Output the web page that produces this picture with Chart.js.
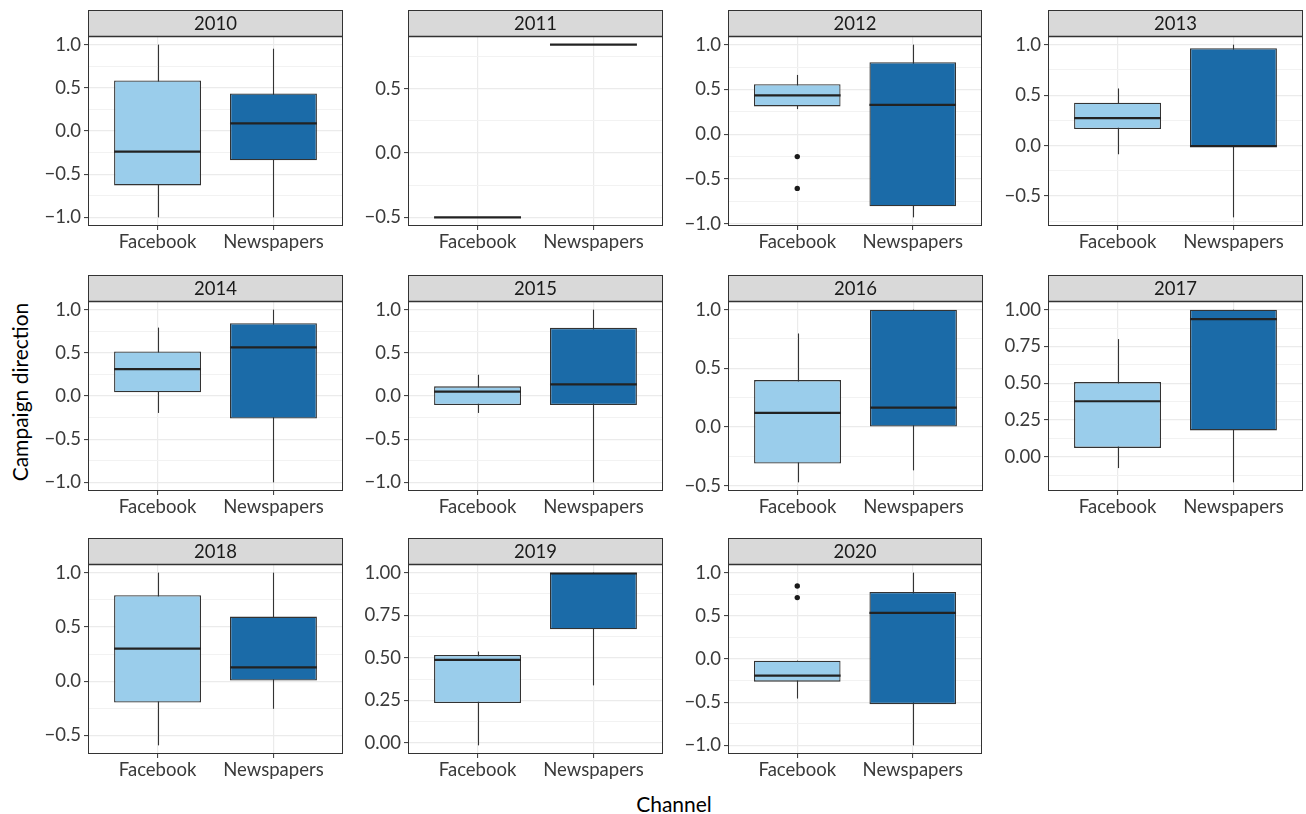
<!DOCTYPE html>
<html>
<head>
<meta charset="utf-8">
<script src="https://cdn.jsdelivr.net/npm/chart.js@4.4.1/dist/chart.umd.min.js"></script>
<style>
  html, body { margin: 0; padding: 0; background: #ffffff; }
  #wrap { position: relative; width: 1306px; height: 814px; overflow: hidden; font-family: Lato, "Open Sans", sans-serif; }
  #wrap canvas { position: absolute; }
  .axis-title { position: absolute; white-space: nowrap; font-size: 21px; color: #000000; }
  #ytitle { left: 19px; top: 392px; transform: translate(-50%, -50%) rotate(-90deg); }
  #xtitle { left: 674px; top: 803px; transform: translate(-50%, -50%); }
</style>
</head>
<body>
<div id="wrap">
  <div class="axis-title" id="ytitle">Campaign direction</div>
  <div class="axis-title" id="xtitle">Channel</div>
</div>
<script>
// Facet labels and categories
const years = [2010, 2011, 2012, 2013, 2014, 2015, 2016, 2017, 2018, 2019, 2020];
const channels = ['Facebook', 'Newspapers'];

// Facebook box statistics per year
const fbLow    = [-1.0, -0.5, 0.281, -0.086, -0.196, -0.196, -0.471, -0.076, -0.592, -0.014, -0.458];
const fbQ1     = [-0.63, -0.5, 0.311, 0.165, 0.043, -0.104, -0.31, 0.061, -0.197, 0.234, -0.262];
const fbMedian = [-0.238, -0.5, 0.433, 0.273, 0.311, 0.05, 0.121, 0.378, 0.3, 0.488, -0.193];
const fbQ3     = [0.585, -0.5, 0.559, 0.425, 0.516, 0.112, 0.4, 0.508, 0.791, 0.517, -0.019];
const fbHigh   = [1.0, -0.5, 0.662, 0.566, 0.792, 0.246, 0.797, 0.8, 1.0, 0.537, -0.019];
const fbOutliers = [[], [], [-0.249, -0.604], [], [], [], [], [], [], [], [0.846, 0.711]];

// Newspapers box statistics per year
const npLow    = [-1.0, 0.843, -0.927, -0.711, -1.0, -1.0, -0.369, -0.173, -0.255, 0.338, -1.0];
const npQ1     = [-0.338, 0.843, -0.804, -0.012, -0.261, -0.104, 0.0, 0.18, 0.0, 0.668, -0.523];
const npMedian = [0.089, 0.843, 0.329, -0.005, 0.562, 0.135, 0.166, 0.935, 0.126, 0.995, 0.534];
const npQ3     = [0.435, 0.843, 0.803, 0.964, 0.842, 0.789, 1.0, 1.0, 0.595, 1.0, 0.776];
const npHigh   = [0.953, 0.843, 1.0, 1.0, 1.0, 1.0, 1.0, 1.0, 1.0, 1.0, 1.0];
const npOutliers = [[], [], [], [], [], [], [], [], [], [], []];

// Labelled y ticks per facet and their decimal places
const yTickValues = [
  [-1, -0.5, 0, 0.5, 1],
  [-0.5, 0, 0.5],
  [-1, -0.5, 0, 0.5, 1],
  [-0.5, 0, 0.5, 1],
  [-1, -0.5, 0, 0.5, 1],
  [-1, -0.5, 0, 0.5, 1],
  [-0.5, 0, 0.5, 1],
  [0, 0.25, 0.5, 0.75, 1],
  [-0.5, 0, 0.5, 1],
  [0, 0.25, 0.5, 0.75, 1],
  [-1, -0.5, 0, 0.5, 1]
];
const yTickDigits = [1, 1, 1, 1, 1, 1, 1, 2, 1, 2, 1];

// Layout of the facet grid
const colLeft = [88, 408, 728, 1048];
const rowTop = [10, 275, 538];
const LEFT_GUTTER = 62, STRIP_H = 26, PLOT_W = 255, PLOT_H = 190, BOTTOM_GUTTER = 32, RIGHT_PAD = 3;
const FONT_FAMILY = 'Lato, "Open Sans", sans-serif';
const FILLS = ['#9ACDEB', '#1B6BA8'];
const INK = '#333333';

function fmtTick(v, d) {
  const s = Math.abs(v).toFixed(d);
  return (v < -1e-9 ? '\u2212' : '') + s;
}

function boxPlugin(stats, year) {
  return {
    id: 'boxParts',
    beforeDraw(chart) {
      const { ctx, chartArea: a } = chart;
      ctx.save();
      ctx.fillStyle = '#ffffff';
      ctx.fillRect(a.left, a.top, a.right - a.left, a.bottom - a.top);
      ctx.restore();
    },
    beforeDatasetsDraw(chart) {
      // whiskers behind the boxes
      const { ctx } = chart;
      const xs = chart.scales.x, ys = chart.scales.y;
      ctx.save();
      ctx.strokeStyle = INK;
      ctx.lineWidth = 1.1;
      stats.low.forEach((lo, k) => {
        const x = Math.round(xs.getPixelForValue(k + 1)) + 0.5;
        ctx.beginPath();
        ctx.moveTo(x, ys.getPixelForValue(lo));
        ctx.lineTo(x, ys.getPixelForValue(stats.high[k]));
        ctx.stroke();
      });
      ctx.restore();
    },
    afterDatasetsDraw(chart) {
      // median bars across each box
      const { ctx } = chart;
      const ys = chart.scales.y;
      const meta = chart.getDatasetMeta(0);
      ctx.save();
      ctx.strokeStyle = '#222222';
      ctx.lineWidth = 2.2;
      meta.data.forEach((el, k) => {
        const { x, width } = el.getProps(['x', 'width'], true);
        const y = ys.getPixelForValue(stats.median[k]);
        ctx.beginPath();
        ctx.moveTo(x - width / 2, y);
        ctx.lineTo(x + width / 2, y);
        ctx.stroke();
      });
      ctx.restore();
    },
    afterDraw(chart) {
      // panel frame and facet strip
      const { ctx, chartArea: a } = chart;
      ctx.save();
      ctx.strokeStyle = INK;
      ctx.lineWidth = 1;
      ctx.strokeRect(a.left + 0.5, a.top + 0.5, a.right - a.left - 1, a.bottom - a.top - 1);
      ctx.fillStyle = '#D9D9D9';
      ctx.fillRect(a.left, 0, a.right - a.left, a.top);
      ctx.strokeRect(a.left + 0.5, 0.5, a.right - a.left - 1, a.top);
      ctx.lineWidth = 1.6;
      ctx.beginPath();
      ctx.moveTo(a.left, a.top + 0.5);
      ctx.lineTo(a.right, a.top + 0.5);
      ctx.stroke();
      ctx.fillStyle = '#1A1A1A';
      ctx.font = '18.5px ' + FONT_FAMILY;
      ctx.textAlign = 'center';
      ctx.textBaseline = 'middle';
      ctx.fillText(String(year), (a.left + a.right) / 2, a.top / 2 + 1);
      ctx.restore();
    }
  };
}

const wrap = document.getElementById('wrap');

years.forEach((year, i) => {
  const col = i % 4, row = Math.floor(i / 4);
  const canvas = document.createElement('canvas');
  const w = LEFT_GUTTER + PLOT_W + RIGHT_PAD;
  const h = STRIP_H + PLOT_H + BOTTOM_GUTTER;
  canvas.width = w;
  canvas.height = h;
  canvas.style.left = (colLeft[col] - LEFT_GUTTER) + 'px';
  canvas.style.top = rowTop[row] + 'px';
  canvas.style.width = w + 'px';
  canvas.style.height = h + 'px';
  wrap.appendChild(canvas);

  const stats = {
    low: [fbLow[i], npLow[i]],
    q1: [fbQ1[i], npQ1[i]],
    median: [fbMedian[i], npMedian[i]],
    q3: [fbQ3[i], npQ3[i]],
    high: [fbHigh[i], npHigh[i]]
  };
  const outlierPts = fbOutliers[i].map(v => ({ x: 1, y: v }))
    .concat(npOutliers[i].map(v => ({ x: 2, y: v })));

  // free y range with 5% expansion
  const allVals = stats.low.concat(stats.high, fbOutliers[i], npOutliers[i]);
  const lo = Math.min(...allVals), hi = Math.max(...allVals);
  const pad = (hi - lo) * 0.05;
  const yMin = lo - pad, yMax = hi + pad;

  const majors = yTickValues[i];
  const half = (majors[1] - majors[0]) / 2;
  const gridVals = [];
  for (let v = Math.ceil(yMin / half - 1e-9) * half; v <= yMax + 1e-9; v += half) {
    gridVals.push(Math.round(v * 1e6) / 1e6);
  }
  const isMajor = v => majors.some(m => Math.abs(m - v) < 1e-6);

  const tickFont = { family: FONT_FAMILY, size: 18.5 };

  new Chart(canvas, {
    type: 'bar',
    data: {
      datasets: [
        {
          type: 'bar',
          data: channels.map((c, k) => ({ x: k + 1, y: [stats.q1[k], stats.q3[k]] })),
          backgroundColor: FILLS,
          borderColor: INK,
          borderWidth: 1.3,
          borderSkipped: false,
          categoryPercentage: 0.75,
          barPercentage: 1,
          order: 1
        },
        {
          type: 'scatter',
          data: outlierPts,
          pointRadius: 2.7,
          pointBackgroundColor: '#1A1A1A',
          pointBorderWidth: 0,
          order: 0
        }
      ]
    },
    options: {
      responsive: false,
      animation: false,
      devicePixelRatio: 1,
      events: [],
      layout: { padding: { top: STRIP_H, right: RIGHT_PAD, left: 0, bottom: 0 } },
      plugins: { legend: { display: false }, tooltip: { enabled: false } },
      scales: {
        x: {
          type: 'linear',
          min: 0.4,
          max: 2.6,
          offset: false,
          border: { display: false },
          grid: {
            offset: false,
            color: '#EBEBEB',
            lineWidth: 1.2,
            drawTicks: true,
            tickLength: 4,
            tickColor: INK,
            tickWidth: 1
          },
          afterBuildTicks: s => { s.ticks = channels.map((c, k) => ({ value: k + 1 })); },
          afterFit: s => { s.height = BOTTOM_GUTTER; },
          ticks: {
            callback: v => channels[Math.round(v) - 1],
            color: '#3A3A3A',
            font: tickFont,
            padding: 1,
            autoSkip: false,
            maxRotation: 0,
            minRotation: 0
          }
        },
        y: {
          type: 'linear',
          min: yMin,
          max: yMax,
          bounds: 'data',
          border: { display: false },
          grid: {
            color: ctx => isMajor(ctx.tick.value) ? '#EBEBEB' : '#F2F2F2',
            lineWidth: ctx => isMajor(ctx.tick.value) ? 1.2 : 1,
            drawTicks: true,
            tickLength: 4,
            tickColor: ctx => isMajor(ctx.tick.value) ? INK : 'rgba(0,0,0,0)',
            tickWidth: 1
          },
          afterBuildTicks: s => { s.ticks = gridVals.map(v => ({ value: v })); },
          afterFit: s => { s.width = LEFT_GUTTER; },
          ticks: {
            callback: v => isMajor(v) ? fmtTick(v, yTickDigits[i]) : '',
            color: '#3A3A3A',
            font: tickFont,
            padding: 3,
            autoSkip: false
          }
        }
      }
    },
    plugins: [boxPlugin(stats, year)]
  });
});
</script>
</body>
</html>
